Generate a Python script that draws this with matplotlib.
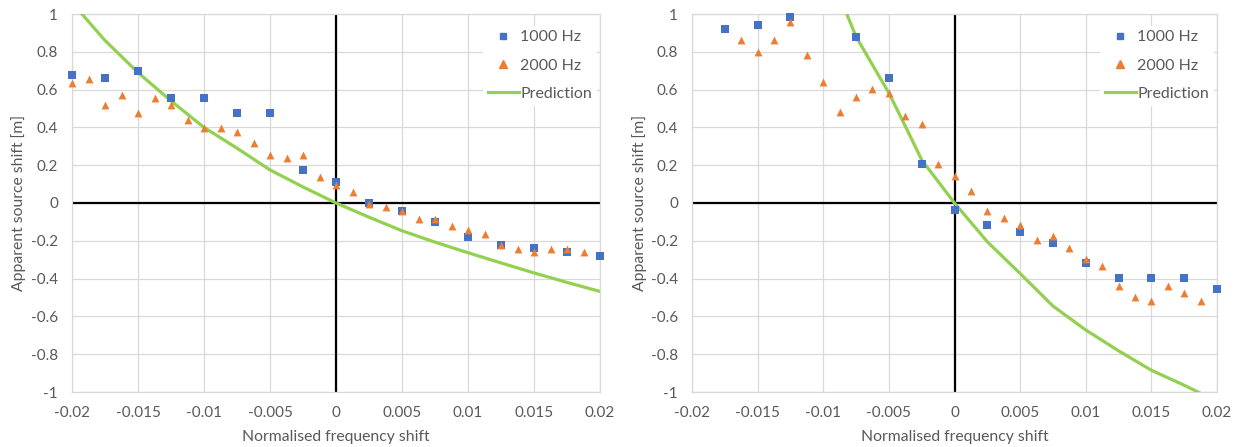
import matplotlib
matplotlib.use('Agg')
import matplotlib.pyplot as plt
from matplotlib.lines import Line2D

plt.rcParams['font.family'] = ['Lato', 'DejaVu Sans']

# left chart: measured points
left_x_1000 = [-0.02, -0.0175, -0.015, -0.0125, -0.01, -0.0075, -0.005, -0.0025, 0.0,
               0.0025, 0.005, 0.0075, 0.01, 0.0125, 0.015, 0.0175, 0.02]
left_y_1000 = [0.676, 0.66, 0.70, 0.557, 0.557, 0.478, 0.478, 0.177, 0.113,
               -0.002, -0.044, -0.10, -0.178, -0.22, -0.24, -0.26, -0.283]

left_x_2000 = [-0.02, -0.01875, -0.0175, -0.01625, -0.015, -0.01375, -0.0125, -0.01125,
               -0.01, -0.00875, -0.0075, -0.00625, -0.005, -0.00375, -0.0025, -0.00125,
               0.0, 0.00125, 0.0025, 0.00375, 0.005, 0.00625, 0.0075, 0.00875, 0.01,
               0.01125, 0.0125, 0.01375, 0.015, 0.01625, 0.0175, 0.01875]
left_y_2000 = [0.635, 0.658, 0.519, 0.573, 0.476, 0.557, 0.519, 0.437,
               0.398, 0.398, 0.375, 0.317, 0.255, 0.237, 0.255, 0.136,
               0.096, 0.057, -0.004, -0.023, -0.044, -0.085, -0.085, -0.124, -0.142,
               -0.165, -0.22, -0.244, -0.26, -0.244, -0.244, -0.26]

left_x_pred = [-0.02, -0.0175, -0.015, -0.0125, -0.01, -0.0075, -0.005, -0.0025, 0.0,
               0.0025, 0.005, 0.0075, 0.01, 0.0125, 0.015, 0.0175, 0.02]
left_y_pred = [1.06, 0.86, 0.69, 0.54, 0.40, 0.29, 0.175, 0.085, 0.0,
               -0.075, -0.147, -0.207, -0.263, -0.317, -0.37, -0.42, -0.468]

# right chart
right_x_1000 = [-0.0175, -0.015, -0.0125, -0.0075, -0.005, -0.0025, 0.0,
                0.0025, 0.005, 0.0075, 0.01, 0.0125, 0.015, 0.0175, 0.02]
right_y_1000 = [0.920, 0.942, 0.982, 0.880, 0.664, 0.207, -0.037,
                -0.117, -0.156, -0.214, -0.317, -0.395, -0.395, -0.395, -0.457]

right_x_2000 = [-0.01625, -0.015, -0.01375, -0.0125, -0.01125, -0.01, -0.00875, -0.0075,
                -0.00625, -0.005, -0.00375, -0.0025, -0.00125, 0.0, 0.00125, 0.0025,
                0.00375, 0.005, 0.00625, 0.0075, 0.00875, 0.01, 0.01125, 0.0125,
                0.01375, 0.015, 0.01625, 0.0175, 0.01875]
right_y_2000 = [0.864, 0.800, 0.864, 0.960, 0.784, 0.641, 0.481, 0.563,
                0.602, 0.582, 0.460, 0.419, 0.205, 0.142, 0.062, -0.041,
                -0.080, -0.119, -0.196, -0.175, -0.239, -0.294, -0.334, -0.437,
                -0.497, -0.517, -0.437, -0.476, -0.517]

right_x_pred = [-0.0085, -0.0075, -0.005, -0.00375, -0.0025, 0.0,
                0.0025, 0.005, 0.0075, 0.01, 0.0125, 0.015, 0.0175, 0.02]
right_y_pred = [1.05, 0.88, 0.582, 0.407, 0.228, 0.0,
                -0.205, -0.373, -0.545, -0.672, -0.782, -0.885, -0.964, -1.05]

xticks = [-0.02, -0.015, -0.01, -0.005, 0, 0.005, 0.01, 0.015, 0.02]
xtick_labels = ['-0.02', '-0.015', '-0.01', '-0.005', '0', '0.005', '0.01', '0.015', '0.02']
yticks = [-1, -0.8, -0.6, -0.4, -0.2, 0, 0.2, 0.4, 0.6, 0.8, 1]
ytick_labels = ['-1', '-0.8', '-0.6', '-0.4', '-0.2', '0', '0.2', '0.4', '0.6', '0.8', '1']

blue = '#4472C4'
orange = '#ED7D31'
green = '#92D050'
grid_c = '#D9D9D9'
text_c = '#595959'

W, H = 1244, 447
fig = plt.figure(figsize=(W / 100, H / 100), dpi=100)


def draw(rect, x1, y1, x2, y2, xp, yp, ylab_x):
    ax = fig.add_axes(rect)
    ax.set_xlim(-0.02, 0.02)
    ax.set_ylim(-1, 1)
    ax.set_xticks(xticks)
    ax.set_xticklabels(xtick_labels)
    ax.set_yticks(yticks)
    ax.set_yticklabels(ytick_labels)
    ax.tick_params(length=0, labelsize=11, labelcolor=text_c)
    ax.tick_params(axis='x', pad=10)
    ax.tick_params(axis='y', pad=10)
    ax.grid(True, color=grid_c, lw=0.9, zorder=0)
    ax.set_axisbelow(True)
    for s in ax.spines.values():
        s.set_color(grid_c)
        s.set_linewidth(0.9)
    ax.axhline(0, color='black', lw=1.6, zorder=1)
    ax.axvline(0, color='black', lw=1.6, zorder=1)

    ax.plot(xp, yp, color=green, lw=2.3, zorder=3)
    ax.scatter(x1, y1, marker='s', s=36, color=blue, zorder=4, clip_on=False, linewidths=0)
    ax.scatter(x2, y2, marker='^', s=32, color=orange, zorder=5, clip_on=False, linewidths=0)

    handles = [
        Line2D([], [], marker='s', ls='none', color=blue, markersize=5),
        Line2D([], [], marker='^', ls='none', color=orange, markersize=5.3),
        Line2D([], [], color=green, lw=2.3),
    ]
    leg = ax.legend(handles, ['1000 Hz', '2000 Hz', 'Prediction'],
                    loc='upper right', bbox_to_anchor=(1.0, 0.978),
                    fontsize=11.5, labelcolor=text_c, frameon=True,
                    facecolor='white', edgecolor='none', framealpha=1,
                    handlelength=1.95, handletextpad=0.1, labelspacing=0.88,
                    borderpad=0.3, borderaxespad=0.2, fancybox=False)
    leg.set_zorder(6)

    ax.set_xlabel('Normalised frequency shift', fontsize=11.3, color=text_c)
    ax.set_ylabel('Apparent source shift [m]', fontsize=11.3, color=text_c)
    ax.xaxis.set_label_coords(0.5, -0.119)
    ax.xaxis.label.set_va('center')
    ax.yaxis.set_label_coords(ylab_x, 0.5)
    ax.yaxis.label.set_va('center')
    return ax


draw([72 / W, 55 / H, 528 / W, 378 / H],
     left_x_1000, left_y_1000, left_x_2000, left_y_2000, left_x_pred, left_y_pred, -0.102)
draw([692 / W, 55 / H, 525 / W, 378 / H],
     right_x_1000, right_y_1000, right_x_2000, right_y_2000, right_x_pred, right_y_pred, -0.099)

fig.savefig('out.png', dpi=100)
